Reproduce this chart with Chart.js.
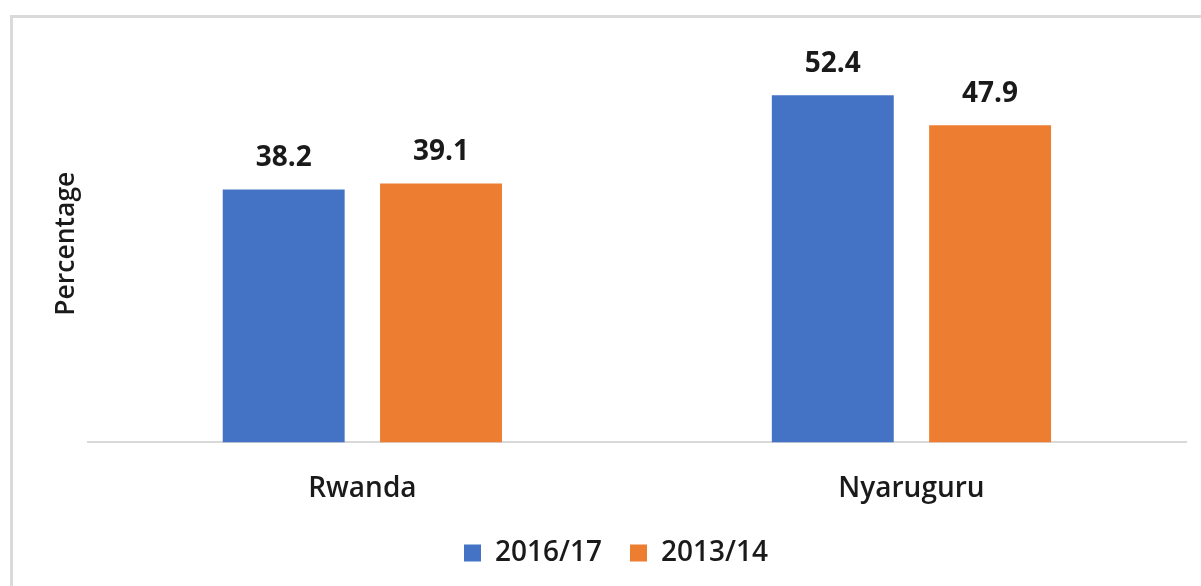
<!DOCTYPE html>
<html>
<head>
<meta charset="utf-8">
<script src="https://cdn.jsdelivr.net/npm/chart.js@4"></script>
<style>
	html, body { margin: 0; padding: 0; background: #fff; overflow: hidden; }
	#wrap { position: relative; width: 1201px; height: 586px; }
	#frame {
		position: absolute; left: 10px; top: 15px; width: 1400px; height: 800px;
		border-left: 3px solid #dadada; border-top: 3px solid #dadada;
	}
	#myChart { position: absolute; left: 0; top: 0; }
</style>
</head>
<body>
<div id="wrap">
	<div id="frame"></div>
	<canvas id="myChart" width="1201" height="586"></canvas>
</div>
<script>
var categories = ['Rwanda', 'Nyaruguru'];
var seriesNames = ['2016/17', '2013/14'];
var values2016 = [38.2, 52.4];
var values2013 = [39.1, 47.9];
var seriesColors = ['#4472C4', '#ED7D31'];

var fontFamily = '"Open Sans", "Noto Sans", sans-serif';
var textColor = '#1a1a1a';

// draws the value over each bar
var barLabels = {
	id: 'barLabels',
	afterDatasetsDraw: function(chart) {
		var ctx = chart.ctx;
		ctx.save();
		ctx.font = 'bold 28px ' + fontFamily;
		ctx.fillStyle = textColor;
		ctx.textAlign = 'center';
		ctx.textBaseline = 'middle';
		chart.data.datasets.forEach(function(ds, i) {
			var meta = chart.getDatasetMeta(i);
			meta.data.forEach(function(bar, j) {
				ctx.fillText(ds.data[j].toFixed(1), bar.x, bar.y - 31);
			});
		});
		ctx.restore();
	}
};

var ctx = document.getElementById('myChart').getContext('2d');
var chart = new Chart(ctx, {
	type: 'bar',
	data: {
		labels: categories,
		datasets: [
			{ label: seriesNames[0], data: values2016, backgroundColor: seriesColors[0] },
			{ label: seriesNames[1], data: values2013, backgroundColor: seriesColors[1] }
		]
	},
	options: {
		responsive: false,
		animation: false,
		categoryPercentage: 0.573,
		barPercentage: 0.775,
		layout: { padding: { left: 46, right: 15, top: 45, bottom: 9 } },
		plugins: {
			legend: {
				position: 'bottom',
				labels: {
					boxWidth: 17, boxHeight: 17, padding: 28,
					color: textColor,
					font: { family: fontFamily, size: 28, weight: '600' }
				}
			},
			tooltip: { enabled: false }
		},
		scales: {
			x: {
				grid: { display: false, drawTicks: false },
				border: { display: true, color: '#d9d9d9', width: 2 },
				ticks: {
					padding: 30, color: textColor,
					font: { family: fontFamily, size: 28, weight: '600' }
				},
				// pull the legend up closer to the category labels
				afterFit: function(scale) {
					scale.height -= 25;
				}
			},
			y: {
				min: 0, max: 60,
				grid: { display: false, drawTicks: false },
				border: { display: false },
				ticks: { display: false },
				title: {
					display: true, text: 'Percentage', color: textColor, padding: 5,
					font: { family: fontFamily, size: 26.5, weight: '600' }
				}
			}
		}
	},
	plugins: [barLabels]
});
</script>
</body>
</html>
